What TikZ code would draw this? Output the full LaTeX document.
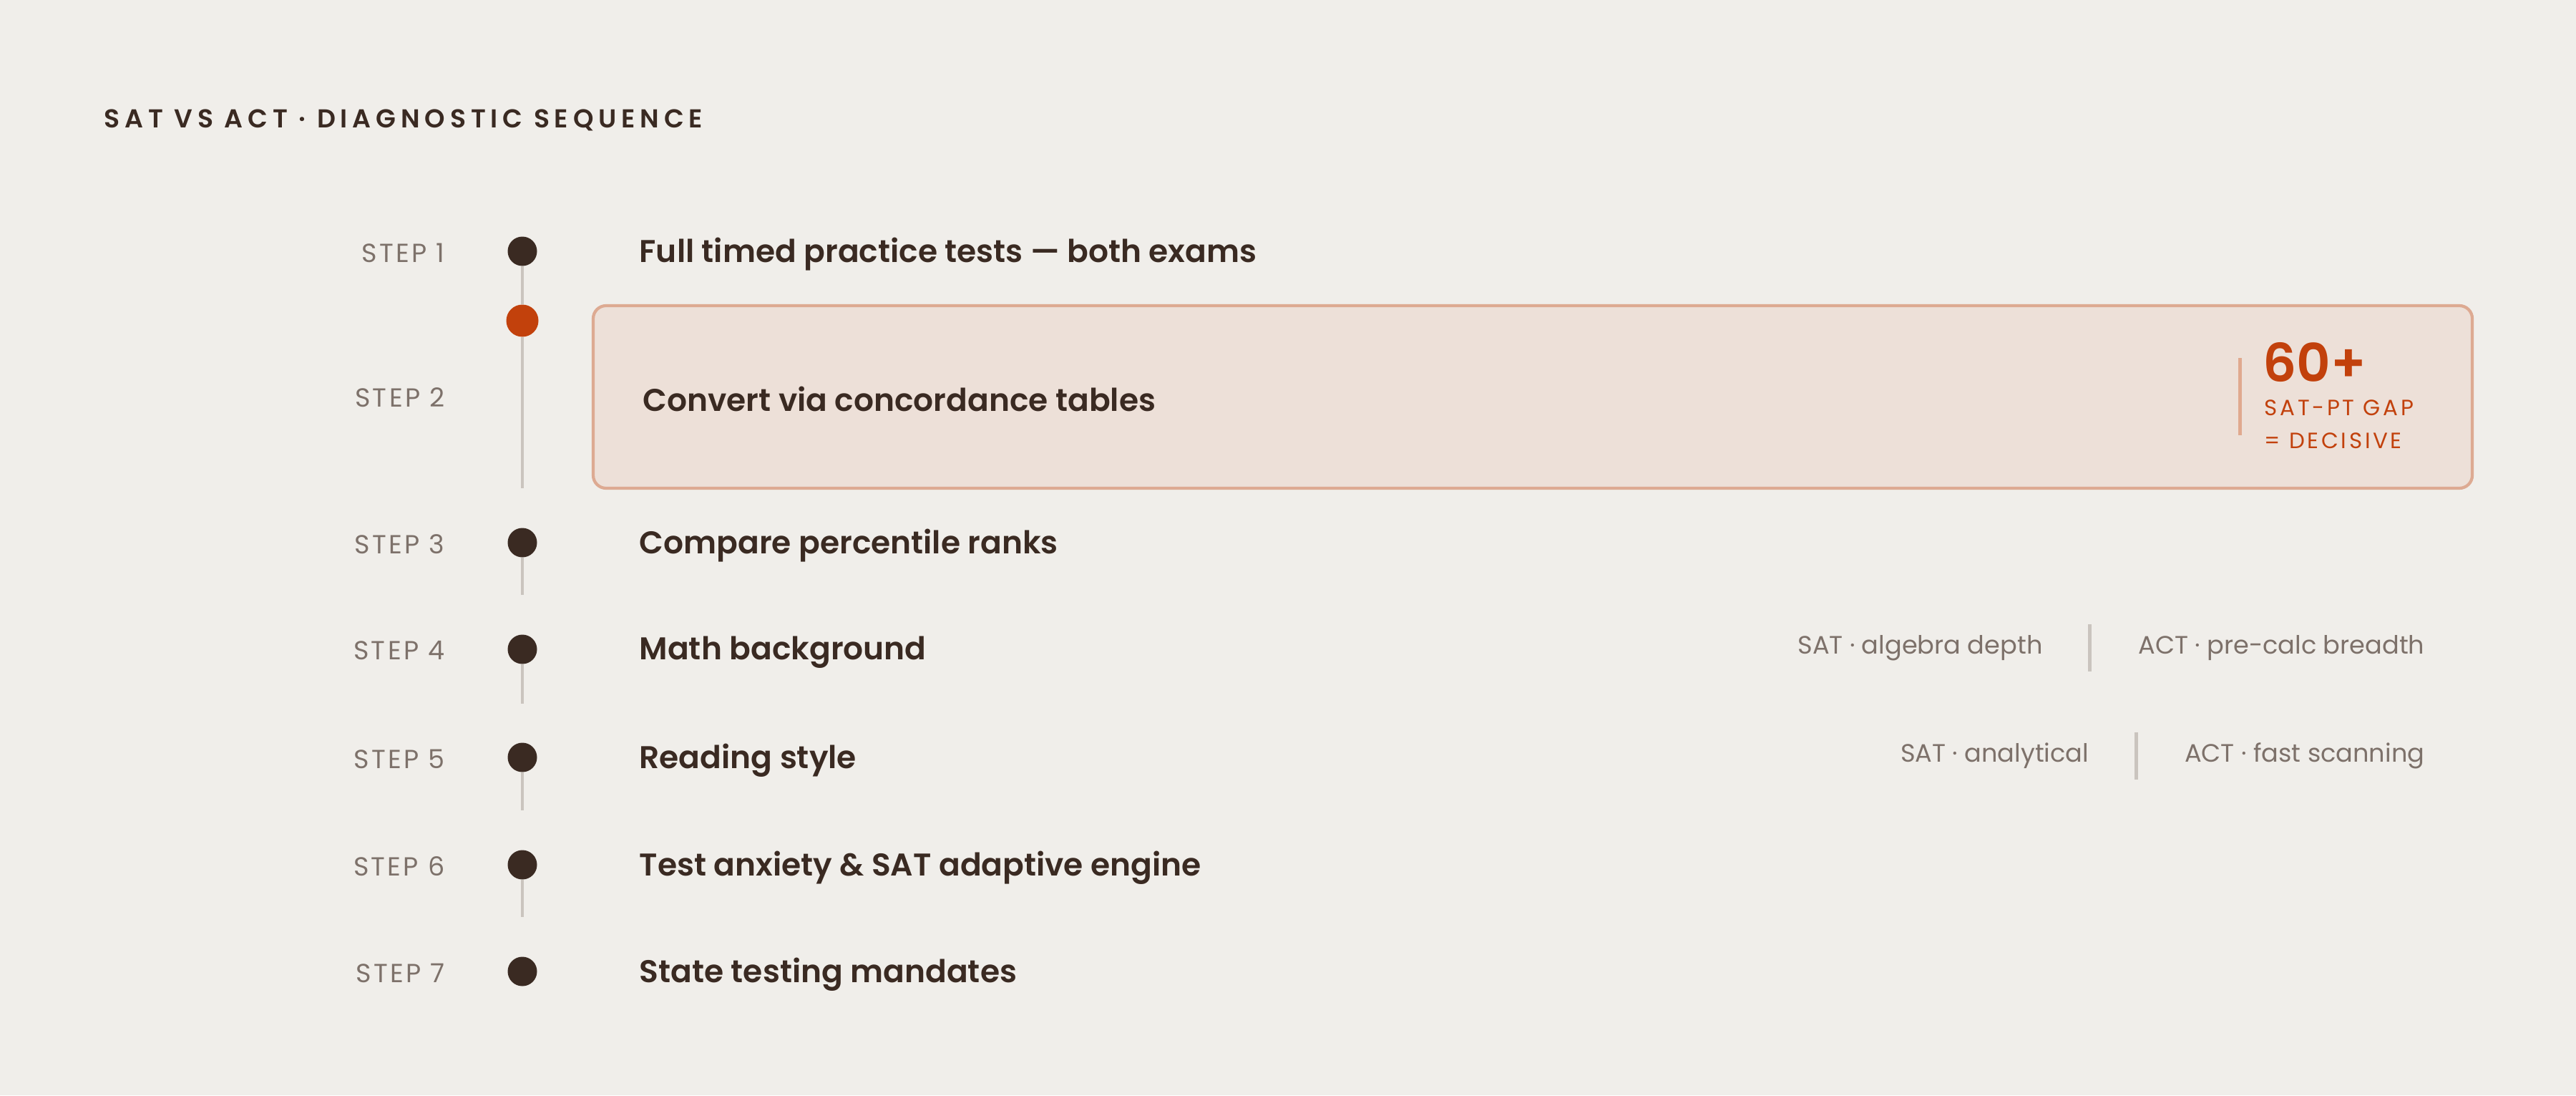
\documentclass[tikz,border=0pt]{standalone}
\usepackage{fontspec}
\setmainfont{Poppins}[BoldFont={Poppins SemiBold}]
\usetikzlibrary{positioning}
\definecolor{bgc}{HTML}{F0EEEA}
\definecolor{ink}{HTML}{3A2A22}
\definecolor{mute}{HTML}{7D716A}
\definecolor{rust}{HTML}{C2410C}
\definecolor{railc}{HTML}{CAC4BE}
\definecolor{boxfill}{HTML}{EDE0D8}
\definecolor{boxline}{HTML}{DDAA92}
\definecolor{gapbar}{HTML}{E0A98F}
\begin{document}
\begin{tikzpicture}
        \tikzstyle{dotn} = [circle, fill=ink, inner sep=0pt, minimum size=0.41cm]
        \tikzstyle{steplab} = [anchor=east, inner sep=0pt, text=mute, font=\fontsize{10.4}{12}\selectfont\addfontfeatures{LetterSpace=9}]
        \tikzstyle{stepttl} = [anchor=west, inner sep=0pt, text=ink, font=\fontsize{12.5}{15}\selectfont\bfseries]
        \tikzstyle{rail} = [line width=1.4pt, draw=railc]
        \tikzstyle{sidetxt} = [inner sep=0pt, text=mute, font=\fontsize{10}{12}\selectfont]
        \tikzstyle{vbar} = [fill=railc, inner sep=0pt, minimum width=0.05cm, minimum height=0.66cm]
        \tikzstyle{gaptxt} = [anchor=west, inner sep=0pt, text=rust, font=\fontsize{8.8}{10}\selectfont\addfontfeatures{LetterSpace=12}]
        \tikzstyle{hlbox} = [draw=boxline, line width=1.2pt, fill=boxfill, rounded corners=0.18cm, minimum width=26.26cm, minimum height=2.55cm]

        \fill[bgc] (0,0) rectangle (36,-15.3);
        \useasboundingbox (0,0) rectangle (36,-15.3);

        \node[anchor=west, inner sep=0pt, text=ink, font=\fontsize{10.3}{12}\selectfont\bfseries\addfontfeatures{LetterSpace=19}] (title) at (1.45,-1.68) {SAT VS ACT · DIAGNOSTIC SEQUENCE};

        \node[hlbox] (box) at (21.42,-5.545) {};

        \node[dotn] (d1) at (7.30,-3.51) {};
        \node[dotn, fill=rust, minimum size=0.45cm] (d2) at (7.30,-4.48) {};
        \node[dotn] (d3) at (7.30,-7.58) {};
        \node[dotn] (d4) at (7.30,-9.07) {};
        \node[dotn] (d5) at (7.30,-10.58) {};
        \node[dotn] (d6) at (7.30,-12.08) {};
        \node[dotn] (d7) at (7.30,-13.57) {};

        \coordinate (e2) at (7.30,-6.82);
        \coordinate (e3) at (7.30,-8.31);
        \coordinate (e4) at (7.30,-9.83);
        \coordinate (e5) at (7.30,-11.32);
        \coordinate (e6) at (7.30,-12.81);

        \draw[rail] (d1) to (d2);
        \draw[rail] (d2) to (e2);
        \draw[rail] (d3) to (e3);
        \draw[rail] (d4) to (e4);
        \draw[rail] (d5) to (e5);
        \draw[rail] (d6) to (e6);

        \node[steplab] (s1) at (6.22,-3.53) {STEP 1};
        \node[steplab] (s2) at (6.22,-5.55) {STEP 2};
        \node[steplab] (s3) at (6.22,-7.60) {STEP 3};
        \node[steplab] (s4) at (6.22,-9.09) {STEP 4};
        \node[steplab] (s5) at (6.22,-10.60) {STEP 5};
        \node[steplab] (s6) at (6.22,-12.10) {STEP 6};
        \node[steplab] (s7) at (6.22,-13.59) {STEP 7};

        \node[stepttl] (t1) at (8.93,-3.55) {Full timed practice tests — both exams};
        \node[stepttl] (t2) at (8.98,-5.57) {Convert via concordance tables};
        \node[stepttl] (t3) at (8.93,-7.62) {Compare percentile ranks};
        \node[stepttl] (t4) at (8.93,-9.11) {Math background};
        \node[stepttl] (t5) at (8.93,-10.62) {Reading style};
        \node[stepttl] (t6) at (8.93,-12.12) {Test anxiety \& SAT adaptive engine};
        \node[stepttl] (t7) at (8.93,-13.61) {State testing mandates};

        \node[fill=gapbar, inner sep=0pt, minimum width=0.05cm, minimum height=1.08cm] (gbar) at (31.30,-5.54) {};
        \node[anchor=west, inner sep=0pt, text=rust, font=\fontsize{21}{24}\selectfont\bfseries] (gap) at (31.62,-5.06) {60+};
        \node[gaptxt] (gap1) at (31.64,-5.70) {SAT-PT GAP};
        \node[gaptxt] (gap2) at (31.64,-6.16) {= DECISIVE};

        \node[sidetxt, anchor=east] (act4) at (33.89,-9.05) {ACT · pre-calc breadth};
        \node[vbar, left=0.64cm of act4] (bar4) {};
        \node[sidetxt, left=0.62cm of bar4] (sat4) {SAT · algebra depth};

        \node[sidetxt, anchor=east] (act5) at (33.89,-10.56) {ACT · fast scanning};
        \node[vbar, left=0.64cm of act5] (bar5) {};
        \node[sidetxt, left=0.62cm of bar5] (sat5) {SAT · analytical};
      \end{tikzpicture}
\end{document}
